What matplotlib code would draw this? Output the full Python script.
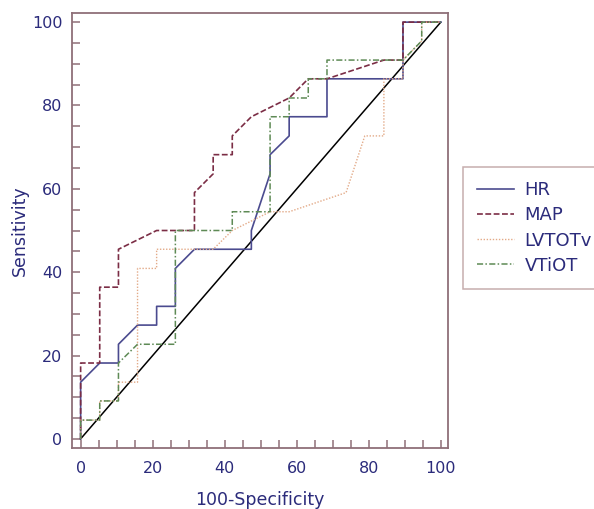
import matplotlib.pyplot as plt

# ROC curves (100-specificity vs sensitivity, %)
hr_fpr = [0, 0, 5.3, 10.5, 10.5, 15.8, 21.1, 21.1, 26.3, 26.3, 31.6, 47.4, 47.4,
          52.6, 52.6, 57.9, 57.9, 68.4, 68.4, 89.5, 89.5, 100]
hr_sens = [0, 13.6, 18.2, 18.2, 22.7, 27.3, 27.3, 31.8, 31.8, 40.9, 45.5, 45.5, 50.0,
           63.6, 68.2, 72.7, 77.3, 77.3, 86.4, 86.4, 100, 100]

map_fpr = [0, 0, 5.3, 5.3, 10.5, 10.5, 21.1, 31.6, 31.6, 36.8, 36.8, 42.1, 42.1,
           47.4, 57.9, 63.2, 68.4, 84.2, 89.5, 89.5, 100]
map_sens = [0, 18.2, 18.2, 36.4, 36.4, 45.5, 50.0, 50.0, 59.1, 63.6, 68.2, 68.2, 72.7,
            77.3, 81.8, 86.4, 86.4, 90.9, 90.9, 100, 100]

lvtot_fpr = [0, 0, 5.3, 5.3, 10.5, 10.5, 15.8, 15.8, 21.1, 21.1, 36.8, 42.1, 52.6,
             57.9, 73.7, 78.9, 84.2, 84.2, 89.5, 89.5, 94.7, 94.7, 100]
lvtot_sens = [0, 4.5, 4.5, 9.1, 9.1, 13.6, 13.6, 40.9, 40.9, 45.5, 45.5, 50.0, 54.5,
              54.5, 59.1, 72.7, 72.7, 86.4, 86.4, 90.9, 95.5, 100, 100]

vtiot_fpr = [0, 0, 5.3, 5.3, 10.5, 10.5, 15.8, 26.3, 26.3, 42.1, 42.1, 52.6, 52.6,
             57.9, 57.9, 63.2, 63.2, 68.4, 68.4, 89.5, 94.7, 94.7, 100]
vtiot_sens = [0, 4.5, 4.5, 9.1, 9.1, 18.2, 22.7, 22.7, 50.0, 50.0, 54.5, 54.5, 77.3,
              77.3, 81.8, 81.8, 86.4, 86.4, 90.9, 90.9, 95.5, 100, 100]

ticks = [0, 20, 40, 60, 80, 100]

spine_col = '#8f6f78'
text_col = '#2b2b7b'

plt.rcParams['font.family'] = ['DejaVu Sans']

fig = plt.figure(figsize=(5.94, 5.09), dpi=100)
ax = fig.add_axes([0.1212, 0.1198, 0.633, 0.8547])

ax.plot([0, 100], [0, 100], color='k', lw=1.1)
ax.plot(hr_fpr, hr_sens, color='#4b4b8f', lw=1.2, label='HR')
ax.plot(map_fpr, map_sens, color='#7b2d45', lw=1.2, ls=(0, (3.5, 1.5)), label='MAP')
ax.plot(lvtot_fpr, lvtot_sens, color='#e3aa88', lw=1.0, ls=(0, (1, 1.2)), label='LVTOTv')
ax.plot(vtiot_fpr, vtiot_sens, color='#5e8a55', lw=1.1, ls=(0, (4, 1.5, 1, 1.5)), label='VTiOT')

ax.set_xlim(-2.4, 102.0)
ax.set_ylim(-2.2, 102.2)
ax.set_xticks(ticks)
ax.set_yticks(ticks)
ax.set_xticks(range(0, 101, 5), minor=True)
ax.set_yticks(range(0, 101, 5), minor=True)

for s in ax.spines.values():
    s.set_color(spine_col)
    s.set_linewidth(1.3)
ax.tick_params(which='both', direction='in', length=6, width=1.1, color=spine_col,
               labelcolor=text_col, labelsize=11.5)
ax.tick_params(axis='x', pad=9)
ax.tick_params(axis='y', pad=7)

ax.set_xlabel('100-Specificity', fontsize=12.5, color=text_col, labelpad=11)
ax.set_ylabel('Sensitivity', fontsize=12.5, color=text_col, labelpad=2)

leg = ax.legend(loc='upper left', bbox_to_anchor=(0.7795, 0.6725),
                bbox_transform=fig.transFigure, borderaxespad=0,
                fontsize=13, handlelength=2.0, handletextpad=0.6,
                labelspacing=0.4, borderpad=0.8, fancybox=False)
leg.get_frame().set_edgecolor('#b89a9a')
leg.get_frame().set_linewidth(1.1)
for t in leg.get_texts():
    t.set_color(text_col)

plt.savefig('out.png', dpi=100)
